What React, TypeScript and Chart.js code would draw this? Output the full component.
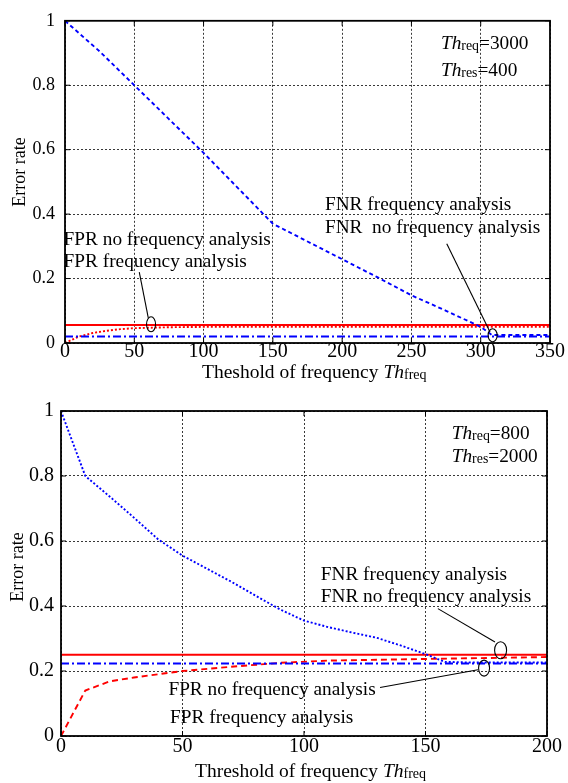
import React, { useEffect, useRef } from "react";
import { Chart, registerables } from "chart.js";
Chart.register(...registerables);

const FONT = "'Liberation Serif', 'Times New Roman', serif";

// ---------- Top chart data (Th_req=3000, Th_res=400) ----------
const topXTicks = [0, 50, 100, 150, 200, 250, 300, 350];
const yTicks = [0, 0.2, 0.4, 0.6, 0.8, 1];

const topFnrFreqX = [0, 25, 50, 75, 100, 125, 150, 175, 200, 225, 250, 275, 300, 308, 325, 350];
const topFnrFreqY = [1.0, 0.905, 0.8, 0.695, 0.59, 0.48, 0.37, 0.315, 0.26, 0.205, 0.148, 0.1, 0.05, 0.025, 0.025, 0.025];
const topFnrNoFreqX = [0, 350];
const topFnrNoFreqY = [0.02, 0.02];
const topFprNoFreqX = [0, 350];
const topFprNoFreqY = [0.056, 0.056];
const topFprFreqX = [0, 10, 20, 30, 40, 50, 75, 100, 350];
const topFprFreqY = [0, 0.02, 0.031, 0.038, 0.043, 0.046, 0.049, 0.05, 0.05];

// ---------- Bottom chart data (Th_req=800, Th_res=2000) ----------
const botXTicks = [0, 50, 100, 150, 200];
const botFnrFreqX = [0, 10, 20, 30, 40, 50, 60, 70, 80, 90, 100, 110, 120, 130, 140, 150, 158, 170, 200];
const botFnrFreqY = [1, 0.8, 0.737, 0.672, 0.605, 0.555, 0.515, 0.475, 0.432, 0.39, 0.355, 0.335, 0.318, 0.302, 0.278, 0.252, 0.228, 0.226, 0.226];
const botFnrNoFreqX = [0, 200];
const botFnrNoFreqY = [0.223, 0.223];
const botFprNoFreqX = [0, 200];
const botFprNoFreqY = [0.25, 0.25];
const botFprFreqX = [0, 10, 20, 30, 40, 50, 70, 90, 110, 150, 200];
const botFprFreqY = [0, 0.14, 0.168, 0.18, 0.19, 0.2, 0.213, 0.225, 0.232, 0.237, 0.243];

const BLUE = "#0000ff";
const RED = "#ff0000";

type Seg = { t: string; it?: boolean; sm?: boolean };
type Note = { x: number; y: number; segs: Seg[] };
type Pointer = { from: [number, number]; to: [number, number]; ell: [number, number]; rx: number; ry: number };

type PanelSpec = {
  width: number;
  height: number;
  area: { left: number; top: number; right: number; bottom: number };
  xMax: number;
  xTicks: number[];
  yTickFont: number;
  yTickPad: number;
  xTickFont: number;
  xTickPad: number;
  series: { label: string; xs: number[]; ys: number[]; color: string; dash: number[] }[];
  notes: Note[];
  pointers: Pointer[];
  xTitle: Seg[];
  xTitleLeft: number;
  xTitleBaseline: number;
  yTitle: string;
  yTitleX: number;
  yTitleCenter: number;
};

const zip = (xs: number[], ys: number[]) => xs.map((x, i) => ({ x, y: ys[i] }));

function drawRich(ctx: CanvasRenderingContext2D, x: number, y: number, segs: Seg[], size: number) {
  let cx = x;
  for (const s of segs) {
    const fs = s.sm ? size * 0.72 : size;
    ctx.font = `${s.it ? "italic " : ""}${fs}px ${FONT}`;
    ctx.fillText(s.t, cx, y + (s.sm ? 1 : 0));
    cx += ctx.measureText(s.t).width;
  }
  return cx - x;
}

const thNotes = (a: string, b: string) => [
  [{ t: "Th", it: true }, { t: "req", sm: true }, { t: "=" + a }],
  [{ t: "Th", it: true }, { t: "res", sm: true }, { t: "=" + b }],
];

function makeOverlay(spec: PanelSpec) {
  return {
    id: "overlay",
    afterDatasetsDraw(chart: any) {
      const ctx: CanvasRenderingContext2D = chart.ctx;
      const a = chart.chartArea;
      const xs = chart.scales.x;
      const ys = chart.scales.y;
      ctx.save();
      ctx.setLineDash([]);
      ctx.strokeStyle = "#000";
      // inward tick marks
      ctx.lineWidth = 1;
      ctx.beginPath();
      for (const t of xs.ticks) {
        const px = xs.getPixelForValue(t.value);
        ctx.moveTo(px, a.bottom);
        ctx.lineTo(px, a.bottom - 5);
        ctx.moveTo(px, a.top);
        ctx.lineTo(px, a.top + 5);
      }
      for (const t of ys.ticks) {
        const py = ys.getPixelForValue(t.value);
        ctx.moveTo(a.left, py);
        ctx.lineTo(a.left + 5, py);
        ctx.moveTo(a.right, py);
        ctx.lineTo(a.right - 5, py);
      }
      ctx.stroke();
      // frame
      ctx.lineWidth = 1.8;
      ctx.strokeRect(a.left, a.top, a.right - a.left, a.bottom - a.top);

      // notes
      ctx.fillStyle = "#000";
      ctx.textBaseline = "alphabetic";
      ctx.textAlign = "left";
      for (const n of spec.notes) {
        drawRich(ctx, xs.getPixelForValue(n.x), ys.getPixelForValue(n.y), n.segs, 19.3);
      }
      // pointers
      ctx.lineWidth = 1.1;
      for (const p of spec.pointers) {
        ctx.beginPath();
        ctx.moveTo(xs.getPixelForValue(p.from[0]), ys.getPixelForValue(p.from[1]));
        ctx.lineTo(xs.getPixelForValue(p.to[0]), ys.getPixelForValue(p.to[1]));
        ctx.stroke();
        ctx.beginPath();
        ctx.ellipse(xs.getPixelForValue(p.ell[0]), ys.getPixelForValue(p.ell[1]), p.rx, p.ry, 0, 0, Math.PI * 2);
        ctx.stroke();
      }
      // x title
      drawRich(ctx, spec.xTitleLeft, spec.xTitleBaseline, spec.xTitle, 19.5);
      // y title
      ctx.save();
      ctx.translate(spec.yTitleX, spec.yTitleCenter);
      ctx.rotate(-Math.PI / 2);
      ctx.textAlign = "center";
      ctx.font = `18px ${FONT}`;
      ctx.fillText(spec.yTitle, 0, 0);
      ctx.restore();
      ctx.restore();
    },
  };
}

function Panel({ spec, top }: { spec: PanelSpec; top: number }) {
  const ref = useRef<HTMLCanvasElement>(null);
  useEffect(() => {
    if (!ref.current) return;
    const s = spec;
    const chart = new Chart(ref.current, {
      type: "line",
      data: {
        datasets: s.series.map((d) => ({
          label: d.label,
          data: zip(d.xs, d.ys),
          borderColor: d.color,
          backgroundColor: d.color,
          borderDash: d.dash,
          borderWidth: 1.9,
          pointRadius: 0,
          tension: 0,
          fill: false,
        })),
      },
      options: {
        animation: false,
        responsive: false,
        devicePixelRatio: 1,
        layout: {
          padding: { left: 0, top: s.area.top, right: s.width - s.area.right, bottom: 0 },
        },
        plugins: { legend: { display: false }, tooltip: { enabled: false } },
        scales: {
          x: {
            type: "linear",
            min: 0,
            max: s.xMax,
            afterBuildTicks: (sc: any) => {
              sc.ticks = s.xTicks.map((v) => ({ value: v }));
            },
            afterFit: (sc: any) => {
              sc.height = s.height - s.area.bottom;
            },
            grid: { color: "#222", lineWidth: 0.9, drawTicks: false },
            border: { display: false, dash: [2, 2] },
            ticks: {
              color: "#000",
              padding: s.xTickPad,
              maxRotation: 0,
              font: { family: FONT, size: s.xTickFont },
            },
          },
          y: {
            type: "linear",
            min: 0,
            max: 1,
            afterBuildTicks: (sc: any) => {
              sc.ticks = yTicks.map((v) => ({ value: v }));
            },
            afterFit: (sc: any) => {
              sc.width = s.area.left;
            },
            grid: { color: "#222", lineWidth: 0.9, drawTicks: false },
            border: { display: false, dash: [2, 2] },
            ticks: {
              color: "#000",
              padding: s.yTickPad,
              font: { family: FONT, size: s.yTickFont },
              callback: (v: any) => String(Math.round(Number(v) * 10) / 10),
            },
          },
        },
      } as any,
      plugins: [makeOverlay(s)],
    });
    return () => chart.destroy();
  }, [spec]);
  return (
    <canvas
      ref={ref}
      width={spec.width}
      height={spec.height}
      style={{ position: "absolute", left: 0, top, width: spec.width, height: spec.height }}
    />
  );
}

const [topTh1, topTh2] = thNotes("3000", "400");
const [botTh1, botTh2] = thNotes("800", "2000");

const topSpec: PanelSpec = {
  width: 568,
  height: 392,
  area: { left: 65, top: 14, right: 550, bottom: 343 },
  xMax: 350,
  xTicks: topXTicks,
  yTickFont: 18,
  yTickPad: 10,
  xTickFont: 20,
  xTickPad: -3,
  series: [
    { label: "FNR frequency analysis", xs: topFnrFreqX, ys: topFnrFreqY, color: BLUE, dash: [4, 3] },
    { label: "FNR no frequency analysis", xs: topFnrNoFreqX, ys: topFnrNoFreqY, color: BLUE, dash: [8, 3, 2, 3] },
    { label: "FPR no frequency analysis", xs: topFprNoFreqX, ys: topFprNoFreqY, color: RED, dash: [] },
    { label: "FPR frequency analysis", xs: topFprFreqX, ys: topFprFreqY, color: RED, dash: [2, 2] },
  ],
  notes: [
    { x: 271.3, y: 0.911, segs: topTh1 },
    { x: 271.3, y: 0.83, segs: topTh2 },
    { x: 187.6, y: 0.412, segs: [{ t: "FNR frequency analysis" }] },
    { x: 187.6, y: 0.341, segs: [{ t: "FNR  no frequency analysis" }] },
    { x: -1, y: 0.305, segs: [{ t: "FPR no frequency analysis" }] },
    { x: -1, y: 0.237, segs: [{ t: "FPR frequency analysis" }] },
  ],
  pointers: [
    { from: [53.6, 0.22], to: [60.1, 0.078], ell: [62.1, 0.058], rx: 4.5, ry: 7.5 },
    { from: [275.5, 0.308], to: [306.7, 0.034], ell: [308.6, 0.024], rx: 4.5, ry: 6.5 },
  ],
  xTitle: [{ t: "Theshold of frequency " }, { t: "Th", it: true }, { t: "freq", sm: true }],
  xTitleLeft: 202,
  xTitleBaseline: 378,
  yTitle: "Error rate",
  yTitleX: 25,
  yTitleCenter: 172,
};

const botSpec: PanelSpec = {
  width: 568,
  height: 391,
  area: { left: 61, top: 15, right: 547, bottom: 344 },
  xMax: 200,
  xTicks: botXTicks,
  yTickFont: 20,
  yTickPad: 7,
  xTickFont: 20,
  xTickPad: -1,
  series: [
    { label: "FNR frequency analysis", xs: botFnrFreqX, ys: botFnrFreqY, color: BLUE, dash: [2, 2] },
    { label: "FNR no frequency analysis", xs: botFnrNoFreqX, ys: botFnrNoFreqY, color: BLUE, dash: [8, 3, 2, 3] },
    { label: "FPR no frequency analysis", xs: botFprNoFreqX, ys: botFprNoFreqY, color: RED, dash: [] },
    { label: "FPR frequency analysis", xs: botFprFreqX, ys: botFprFreqY, color: RED, dash: [6, 4] },
  ],
  notes: [
    { x: 160.8, y: 0.913, segs: botTh1 },
    { x: 160.8, y: 0.842, segs: botTh2 },
    { x: 106.9, y: 0.479, segs: [{ t: "FNR frequency analysis" }] },
    { x: 106.9, y: 0.411, segs: [{ t: "FNR no frequency analysis" }] },
    { x: 44.2, y: 0.125, segs: [{ t: "FPR no frequency analysis" }] },
    { x: 44.9, y: 0.039, segs: [{ t: "FPR frequency analysis" }] },
  ],
  pointers: [
    { from: [155.1, 0.392], to: [178.6, 0.289], ell: [180.9, 0.264], rx: 6, ry: 8.5 },
    { from: [131.3, 0.149], to: [171.6, 0.204], ell: [174.1, 0.209], rx: 5.5, ry: 8 },
  ],
  xTitle: [{ t: "Threshold of frequency " }, { t: "Th", it: true }, { t: "freq", sm: true }],
  xTitleLeft: 195,
  xTitleBaseline: 385,
  yTitle: "Error rate",
  yTitleX: 22.5,
  yTitleCenter: 175,
};

export default function App() {
  return (
    <div style={{ position: "absolute", left: 0, top: 0, width: 568, height: 783, background: "#fff" }}>
      <Panel spec={topSpec} top={0} />
      <Panel spec={botSpec} top={392} />
    </div>
  );
}
